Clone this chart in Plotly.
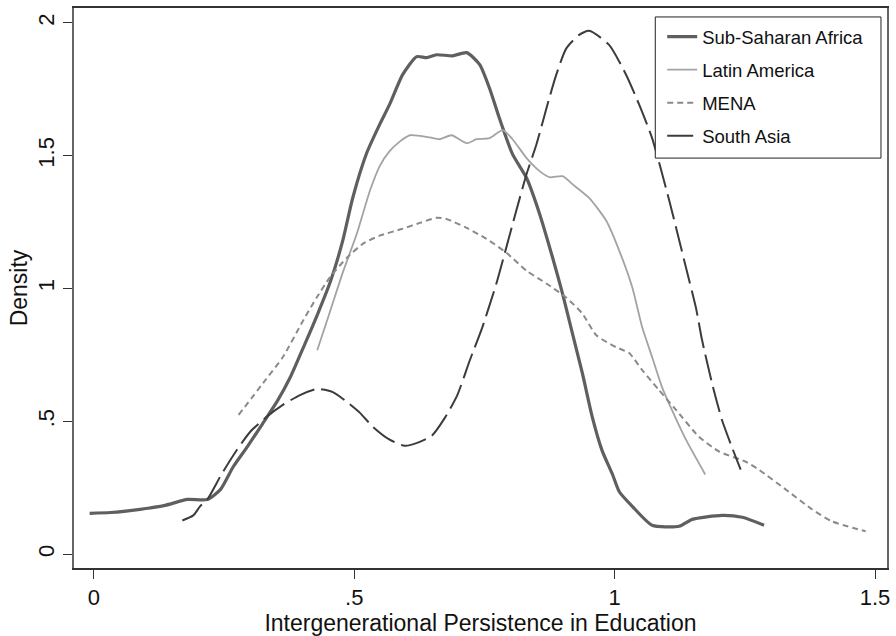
import plotly.graph_objects as go

# Kernel density estimates of intergenerational persistence in education, by region
ssa_x = [-0.008, 0.032, 0.089, 0.137, 0.180, 0.218, 0.243, 0.268, 0.296, 0.325, 0.352, 0.377,
         0.405, 0.430, 0.455, 0.478, 0.497, 0.524, 0.549, 0.568, 0.593, 0.620, 0.639, 0.658,
         0.689, 0.716, 0.741, 0.760, 0.779, 0.804, 0.831, 0.856, 0.881, 0.900, 0.919, 0.938,
         0.957, 0.976, 0.996, 1.009, 1.034, 1.072, 1.124, 1.149, 1.206, 1.245, 1.287]
ssa_y = [0.154, 0.157, 0.169, 0.184, 0.206, 0.206, 0.243, 0.330, 0.408, 0.494, 0.575, 0.665,
         0.790, 0.905, 1.030, 1.180, 1.340, 1.510, 1.618, 1.693, 1.805, 1.873, 1.869, 1.880,
         1.876, 1.888, 1.843, 1.753, 1.640, 1.506, 1.416, 1.281, 1.116, 0.981, 0.831, 0.682,
         0.517, 0.390, 0.300, 0.235, 0.180, 0.109, 0.105, 0.131, 0.146, 0.139, 0.109]

lat_x = [0.429, 0.453, 0.478, 0.505, 0.530, 0.549, 0.568, 0.588, 0.607, 0.645, 0.664, 0.687,
         0.716, 0.735, 0.760, 0.785, 0.804, 0.831, 0.856, 0.875, 0.900, 0.919, 0.951, 0.984,
         1.009, 1.034, 1.053, 1.072, 1.091, 1.110, 1.137, 1.174]
lat_y = [0.768, 0.910, 1.060, 1.206, 1.367, 1.461, 1.517, 1.554, 1.577, 1.569, 1.562, 1.577,
         1.547, 1.562, 1.566, 1.596, 1.562, 1.491, 1.442, 1.419, 1.423, 1.393, 1.341, 1.255,
         1.142, 1.004, 0.854, 0.742, 0.629, 0.543, 0.431, 0.300]

mena_x = [0.278, 0.325, 0.363, 0.402, 0.428, 0.453, 0.486, 0.517, 0.549, 0.593, 0.626, 0.658,
          0.677, 0.716, 0.754, 0.792, 0.831, 0.869, 0.907, 0.938, 0.965, 1.003, 1.028, 1.053,
          1.085, 1.118, 1.162, 1.201, 1.252, 1.277, 1.329, 1.379, 1.417, 1.482]
mena_y = [0.524, 0.644, 0.742, 0.880, 0.966, 1.041, 1.116, 1.169, 1.199, 1.225, 1.247, 1.266,
          1.262, 1.228, 1.187, 1.135, 1.067, 1.019, 0.966, 0.906, 0.824, 0.779, 0.757, 0.693,
          0.618, 0.543, 0.442, 0.386, 0.348, 0.318, 0.243, 0.169, 0.124, 0.086]

sa_x = [0.170, 0.191, 0.204, 0.218, 0.245, 0.275, 0.300, 0.332, 0.363, 0.396, 0.429, 0.459,
        0.486, 0.511, 0.536, 0.568, 0.597, 0.626, 0.649, 0.674, 0.698, 0.722, 0.746, 0.773,
        0.792, 0.811, 0.831, 0.850, 0.869, 0.888, 0.907, 0.932, 0.951, 0.989, 1.022, 1.047,
        1.072, 1.105, 1.137, 1.156, 1.168, 1.187, 1.206, 1.225, 1.242]
sa_y = [0.127, 0.146, 0.180, 0.206, 0.300, 0.393, 0.460, 0.517, 0.562, 0.599, 0.622, 0.610,
        0.573, 0.532, 0.479, 0.431, 0.408, 0.423, 0.446, 0.513, 0.599, 0.730, 0.854, 1.019,
        1.154, 1.292, 1.431, 1.543, 1.678, 1.805, 1.903, 1.955, 1.970, 1.918, 1.805, 1.693,
        1.566, 1.330, 1.079, 0.929, 0.805, 0.644, 0.506, 0.404, 0.318]

x_ticks = [0, 0.5, 1, 1.5]
x_tick_text = ["0", ".5", "1", "1.5"]
y_ticks = [0, 0.5, 1, 1.5, 2]
y_tick_text = ["0", ".5", "1", "1.5", "2"]

series = [
    ("Sub-Saharan Africa", ssa_x, ssa_y, dict(color="#5f5f5f", width=3.2, dash="solid")),
    ("Latin America", lat_x, lat_y, dict(color="#a3a3a3", width=1.8, dash="solid")),
    ("MENA", mena_x, mena_y, dict(color="#8a8a8a", width=2, dash="6px,4px")),
    ("South Asia", sa_x, sa_y, dict(color="#3c3c3c", width=2, dash="26px,7px")),
]

fig = go.Figure()
for name, xs, ys, line in series:
    fig.add_trace(go.Scatter(x=xs, y=ys, mode="lines", name=name, legendgroup=name,
                             line=dict(shape="spline", smoothing=0.6, **line)))

font_family = "Liberation Sans, Arial, sans-serif"

# framed white panel behind the legend entries
fig.add_shape(type="rect", xref="paper", yref="paper",
              x0=0.715, x1=0.9926, y0=0.732, y1=0.984,
              line=dict(color="#222", width=1), fillcolor="white", layer="above")

fig.update_layout(
    width=896, height=636,
    margin=dict(l=74, r=8, t=6, b=67),
    paper_bgcolor="white", plot_bgcolor="white",
    font=dict(family=font_family, size=22, color="#111"),
    showlegend=True,
    legend=dict(
        x=0.7235, y=0.982, xanchor="left", yanchor="top",
        borderwidth=0, bgcolor="rgba(0,0,0,0)",
        font=dict(size=18.5, color="#111"),
        tracegroupgap=6, traceorder="grouped",
        itemwidth=30,
    ),
    xaxis=dict(
        range=[-0.038, 1.523], tickvals=x_ticks, ticktext=x_tick_text,
        ticks="outside", ticklen=9, tickcolor="#333", tickwidth=1.2,
        showline=True, linecolor="#333", linewidth=1.5, mirror=True,
        showgrid=False, zeroline=False, tickfont=dict(size=22),
        title=dict(text="Intergenerational Persistence in Education", standoff=4,
                   font=dict(size=23)),
    ),
    yaxis=dict(
        range=[-0.052, 2.056], tickvals=y_ticks, ticktext=y_tick_text,
        ticks="outside", ticklen=9, tickcolor="#333", tickwidth=1.2, tickangle=-90,
        showline=True, linecolor="#666", linewidth=1.5, mirror=True,
        showgrid=False, zeroline=False, tickfont=dict(size=22),
        title=dict(text="Density", standoff=0, font=dict(size=23)),
    ),
)

fig.write_html("out.html")
